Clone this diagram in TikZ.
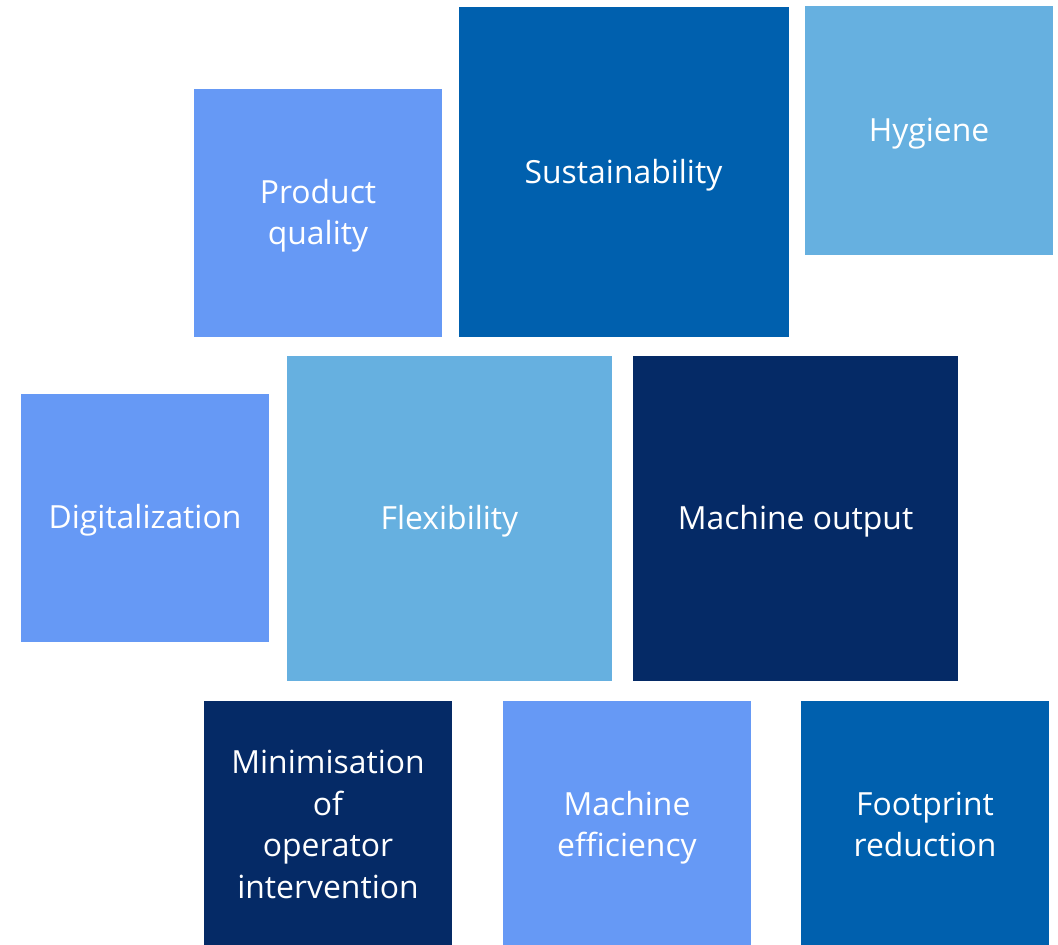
\documentclass[tikz,border=0pt]{standalone}
\usepackage{fontspec}
\setmainfont{Open Sans}
\definecolor{PaleClr}{rgb}{0.4,0.6,0.96}
\definecolor{SkyClr}{rgb}{0.4,0.69,0.88}
\definecolor{MidClr}{rgb}{0,0.376,0.682}
\definecolor{NavyClr}{rgb}{0.02,0.165,0.4}
\newcommand\tilestrut{\rule[-8bp]{0pt}{38bp}}

\begin{document}
\begin{tikzpicture}[x=1bp,y=-1bp]
\tikzset{tile/.style={inner sep=0pt,text=white,align=center,
    font=\fontsize{32}{41.7}\selectfont}}
\tikzset{small/.style={tile,minimum size=248bp}}
\tikzset{big/.style={tile,minimum size=325bp}}

\useasboundingbox (0,0) rectangle (1058,945);

% top row
\node[small,fill=PaleClr] (quality) at (318,213) {\tilestrut Product\\quality\tilestrut};
\node[tile,minimum size=330bp,fill=MidClr] (sustain) at (623.5,172) {\tilestrut Sustainability};
\node[small,fill=SkyClr] (hygiene) at (929,130.5) {\tilestrut Hygiene};

% middle row
\node[small,fill=PaleClr] (digital) at (145,517.5) {\tilestrut Digitalization};
\node[big,fill=SkyClr] (flex) at (449.5,518.5) {\tilestrut Flexibility};
\node[big,fill=NavyClr] (output) at (795.5,518.5) {\tilestrut Machine output};

% bottom row
\node[small,fill=NavyClr] (minim) at (328,825) {\tilestrut Minimisation\\of\\operator\\intervention\tilestrut};
\node[small,fill=PaleClr] (effic) at (627,825) {\tilestrut Machine\\efficiency\tilestrut};
\node[small,fill=MidClr] (foot) at (925,825) {\tilestrut Footprint\\reduction\tilestrut};

\end{tikzpicture}
\end{document}
